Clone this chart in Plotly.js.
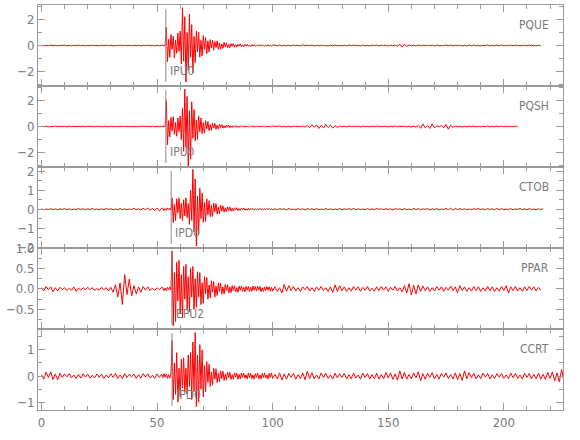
<!DOCTYPE html>
<html>
<head>
<meta charset="utf-8">
<script src="https://cdn.plot.ly/plotly-3.0.1.min.js"></script>
<style>html,body{margin:0;padding:0;background:#fff}#chart{width:580px;height:440px}</style>
</head>
<body>
<div id="chart"></div>
<script>
// Stations, picks
const stations = ['PQUE','PQSH','CTOB','PPAR','CCRT'];
const pickTimes = [53.8, 53.8, 56.1, 56.4, 56.5];
const pickLabels = ['IPU0','IPU0','IPD0','EPU2','IPD0'];

// Sampling segments: [start, step]  (A: 0-52 s, B: 52.5-100 s, C: 101 s-)
const segA = [0, 1], segB = [52.5, 0.5], segC = [101, 1];

// ---- PQUE ----
const pqueA = [.02,-.03,.01,-.02,.03,-.01,.02,-.03,.02,-.01,
.03,-.02,.01,-.03,.02,-.02,.03,-.01,.02,-.03,
.01,-.02,.03,-.02,.01,-.03,.02,-.01,.03,-.02,
.02,-.03,.01,-.02,.03,-.02,.02,-.01,.03,-.03,
.01,-.02,.02,-.03,.02,-.01,.03,-.02,.01,-.03,
.02,-.02,.03];
const pqueB = [.02,-.03,.02,1.4,-1.25,.5,-.9,.85,-.3,.7,
-.95,.4,-.6,.95,-.45,1.1,-1.4,2.9,-1.2,2.2,
-2.8,1.0,-1.9,2.4,-.9,1.6,-2.1,.7,-1.3,1.1,
-.5,1.0,-.9,.4,-.8,.75,-.3,.6,-.65,.35,
-.5,.45,-.2,.4,-.35,.3,-.15,.35,-.3,.2,
-.28,.12,-.22,.25,-.1,.2,-.18,.08,-.17,.15,
-.06,.15,-.13,.07,-.12,.1,-.05,.12,-.1,.05,
-.09,.08,-.04,.09,-.07,.03,-.08,.06,-.04,.07,
-.05,.03,-.06,.05,-.02,.05,-.04,.03,-.05,.04,
-.03,.04,-.04,.02,-.04,.03];
const pqueC = [.03,-.02,.04,-.03,.01,-.03,.02,-.04,.03,-.01,
.02,-.03,.04,-.02,.03,-.01,.03,-.04,.02,-.02,
.03,-.03,.01,-.04,.03,-.02,.04,-.02,.01,-.03,
.02,-.03,.04,-.01,.03,-.02,.02,-.04,.03,-.02,
.01,-.03,.03,-.02,.04,-.03,.02,-.01,.03,-.04,
.02,-.03,.04,-.05,.09,-.12,.1,-.06,.04,-.03,
.02,-.03,.04,-.02,.03,-.01,.03,-.03,.02,-.04,
.03,-.02,.01,-.03,.04,-.02,.03,-.03,.02,-.01,
.03,-.04,.02,-.03,.03,-.02,.04,-.03,.01,-.03,
.02,-.02,.04,-.03,.02,-.03,.03,-.01,.04,-.03,
.02,-.03,.03,-.02,.04,-.02,.01,-.03,.03,-.02,
.04,-.03,.02,-.03,.03,-.02];

// ---- PQSH ----
const pqshA = [.03,-.02,.02,-.03,.01,-.02,.03,-.03,.02,-.01,
.02,-.03,.03,-.01,.02,-.03,.01,-.02,.03,-.02,
.02,-.01,.03,-.03,.02,-.02,.01,-.03,.02,-.03,
.03,-.02,.01,-.03,.02,-.01,.03,-.02,.02,-.03,
.01,-.03,.02,-.02,.03,-.01,.02,-.03,.03,-.02,
.01,-.02,.03];
const pqshB = [.02,-.03,.03,2.0,-1.4,.45,-.8,.7,-.35,.75,
-.6,.3,-.75,.65,-.4,.8,-1.0,1.4,-1.9,2.85,
-1.6,2.3,-3.1,1.2,-2.5,1.9,-.9,1.3,-1.1,.5,
-1.0,.8,-.4,.65,-.55,.3,-.5,.45,-.2,.38,
-.32,.15,-.3,.26,-.12,.24,-.22,.1,-.19,.17,
-.08,.15,-.13,.06,-.12,.11,-.05,.1,-.09,.04,
-.08,.07,-.03,.07,-.06,.03,-.07,.05,-.03,.06,
-.05,.02,-.05,.04,-.03,.05,-.02,.04,-.04,.02,
-.04,.03,-.02,.04,-.03,.02,-.04,.03,-.02,.03,
-.03,.02,-.04,.03,-.02,.03];
const pqshC = [.03,-.02,.04,-.03,.01,-.03,.02,-.04,.03,-.01,
.02,-.03,.04,-.05,.08,-.1,.14,-.06,.12,-.15,
.09,-.11,.14,-.07,.1,-.13,.06,-.08,.04,-.03,
.02,-.03,.04,-.01,.03,-.02,.02,-.04,.03,-.02,
.01,-.03,.03,-.02,.04,-.03,.02,-.01,.03,-.04,
.02,-.03,.04,-.02,.03,-.01,.03,-.03,.02,-.04,
.03,-.05,.08,-.14,.2,-.1,.07,-.15,.2,-.12,
.06,-.04,.08,-.1,.16,-.2,.1,-.07,.04,-.03,
.03,-.04,.02,-.03,.03,-.02,.04,-.03,.01,-.03,
.02,-.02,.04,-.03,.02,-.03,.03,-.01,.04,-.03,
.02,-.03,.03,-.02,.04,-.02];

// ---- CTOB ----
const ctobA = [.02,-.03,.01,-.02,.03,-.02,.01,-.03,.02,-.01,
.03,-.02,.02,-.03,.01,-.02,.03,-.01,.02,-.03,
.02,-.01,.03,-.02,.01,-.03,.02,-.02,.03,-.01,
.02,-.03,.01,-.02,.03,-.02,.02,-.03,.01,-.02,
.04,-.03,.02,-.04,.05,-.03,.06,-.05,.04,-.07,
.06,-.1,.05];
const ctobB = [.05,-.07,.03,-.06,.07,-.04,.06,-.05,.6,-.7,
.25,-.6,.55,-.2,.6,-.5,.3,-.6,.5,-.35,
.6,-.45,.3,-.8,1.0,-.6,2.1,-1.2,1.6,-1.95,
.7,-1.3,1.1,-.5,.85,-.7,.35,-.65,.55,-.3,
.45,-.4,.2,-.38,.32,-.15,.3,-.26,.12,-.24,
.2,-.1,.18,-.16,.08,-.14,.13,-.06,.12,-.1,
.05,-.1,.08,-.04,.08,-.07,.03,-.07,.06,-.03,
.06,-.05,.02,-.06,.04,-.03,.05,-.02,.04,-.04,
.02,-.04,.03,-.02,.04,-.03,.02,-.03,.03,-.02,
.03,-.02,.04,-.03,.02,-.03];
const ctobC = [.02,-.03,.03,-.01,.02,-.03,.04,-.02,.01,-.03,
.03,-.02,.02,-.04,.03,-.01,.02,-.03,.03,-.02,
.01,-.03,.04,-.02,.02,-.03,.01,-.02,.03,-.03,
.02,-.01,.03,-.02,.04,-.03,.02,-.02,.01,-.03,
.03,-.02,.02,-.03,.04,-.01,.02,-.03,.03,-.02,
.02,-.04,.03,-.01,.02,-.03,.03,-.02,.01,-.03,
.04,-.02,.03,-.03,.02,-.01,.03,-.04,.02,-.02,
.03,-.03,.01,-.02,.04,-.03,.05,-.06,.04,-.02,
.03,-.02,.02,-.03,.01,-.03,.03,-.02,.04,-.02,
.02,-.03,.03,-.01,.02,-.03,.04,-.02,.03,-.03,
.01,-.02,.03,-.03,.02,-.01,.03,-.02,.02,-.03,
.03,-.02,.01,-.03,.02,-.02,.03];

// ---- PPAR ----
const pparA = [.03,-.05,.06,-.02,.05,-.07,.03,-.05,.04,-.02,
.03,-.04,.02,-.03,.05,-.06,.02,-.03,.03,-.02,
.04,-.02,.03,-.04,.01,-.03,.04,-.02,.03,-.05,
.04,-.08,.1,-.2,.15,-.38,.35,-.14,.24,-.17,
.08,-.12,.05,-.08,.06,-.03,.05,-.04,.02,-.04,
.03,-.02,.04];
const pparB = [.03,-.04,.02,-.05,.04,-.02,.05,-.03,.93,-.9,
.4,-.8,.65,-.3,.7,-.6,.35,-.7,.55,-.25,
.6,-.5,.3,-.55,.5,-.2,.55,-.5,.25,-.45,
.42,-.2,.4,-.38,.15,-.35,.3,-.12,.28,-.25,
.1,-.22,.2,-.08,.18,-.2,.07,-.16,.15,-.06,
.14,-.13,.05,-.12,.11,-.04,.1,-.1,.05,-.09,
.08,-.04,.08,-.07,.03,-.08,.07,-.03,.07,-.06,
.04,-.07,.06,-.03,.06,-.07,.04,-.06,.07,-.03,
.06,-.05,.07,-.03,.06,-.07,.03,-.06,.05,-.04,
.06,-.03,.05,-.06,.04,-.05];
const pparC = [.05,-.06,.03,-.1,.11,-.06,.08,-.04,.06,-.05,
.03,-.06,.05,-.02,.06,-.05,.03,-.06,.05,-.03,
.06,-.04,.03,-.06,.05,-.09,.1,-.06,.08,-.04,
.05,-.06,.03,-.05,.06,-.03,.05,-.06,.04,-.03,
.06,-.05,.02,-.06,.05,-.04,.06,-.03,.05,-.06,
.04,-.03,.06,-.05,.03,-.07,.08,-.1,.13,-.15,
.09,-.12,.1,-.06,.07,-.04,.05,-.06,.03,-.05,
.06,-.03,.05,-.06,.04,-.03,.07,-.04,.05,-.09,
.08,-.04,.05,-.06,.03,-.05,.06,-.04,.05,-.06,
.03,-.05,.06,-.04,.05,-.06,.03,-.05,.06,-.04,
.08,-.1,.05,-.04,.06,-.05,.03,-.06,.05,-.04,
.06,-.03,.05,-.05,.04,-.03];

// ---- CCRT ----
const ccrtA = [.05,-.12,.15,-.06,.16,-.13,.08,-.14,.1,-.05,
.08,-.03,.09,-.07,.04,-.09,.06,-.08,.09,-.04,
.07,-.08,.03,-.07,.08,-.05,.07,-.09,.04,-.07,
.09,-.05,.1,-.09,.04,-.1,.09,-.06,.07,-.03,
.08,-.09,.05,-.08,.09,-.04,.08,-.07,.03,-.09,
.08,-.05,.07];
const ccrtB = [-.06,.09,-.04,.08,-.09,.05,-.08,.07,1.35,-.9,
.5,-.7,.9,-1.0,.3,-.8,.65,-.45,.7,-.6,
.3,-.7,.8,-.4,.9,-.9,1.3,-.6,1.66,-1.17,
.8,-1.0,1.2,-.5,1.0,-.8,.4,-.6,.55,-.25,
.45,-.4,.15,-.35,.3,-.12,.28,-.25,.1,-.22,
.2,-.1,.18,-.17,.07,-.15,.15,-.06,.14,-.13,
.05,-.12,.12,-.04,.11,-.12,.06,-.11,.12,-.05,
.11,-.08,.04,-.11,.12,-.06,.11,-.1,.04,-.12,
.09,-.05,.12,-.11,.04,-.11,.1,-.06,.12,-.08,
.04,-.11,.1,-.05,.12,-.09];
const ccrtC = [.06,-.11,.12,-.15,.08,-.12,.1,-.05,.1,-.12,
.05,-.1,.12,-.14,.18,-.09,.13,-.11,.04,-.11,
.12,-.06,.11,-.09,.04,-.12,.11,-.07,.09,-.05,
.1,-.11,.05,-.1,.11,-.08,.04,-.12,.11,-.06,
.09,-.11,.05,-.1,.11,-.12,.06,-.11,.13,-.07,
.12,-.13,.08,-.16,.2,-.11,.14,-.12,.06,-.11,
.12,-.07,.16,-.18,.09,-.12,.11,-.05,.13,-.11,
.06,-.12,.1,-.04,.12,-.1,.06,-.11,.12,-.13,
.09,-.17,.2,-.1,.13,-.06,.1,-.11,.05,-.1,
.11,-.04,.1,-.11,.05,-.1,.09,-.04,.1,-.08,
.04,-.1,.11,-.06,.1,-.09,.04,-.11,.1,-.05,
.1,-.11,.06,-.1,.11,-.12,.07,-.13,.14,-.09,
.16,-.18,.12,-.22,.25,-.2];

const series = [
  [pqueA, pqueB, pqueC],
  [pqshA, pqshB, pqshC],
  [ctobA, ctobB, ctobC],
  [pparA, pparB, pparC],
  [ccrtA, ccrtB, ccrtC]
];

function times(seg, n) { const t = []; for (let k = 0; k < n; k++) t.push(seg[0] + k * seg[1]); return t; }

const FONT = '"Liberation Sans Narrow", "DejaVu Sans Condensed", "Arial Narrow", sans-serif';
const GRAY = '#7a7a7a';
const LINE = '#9a9a9a';

const yRanges = [[-3.1, 3.1], [-3.1, 3.1], [-2.05, 2.23], [-0.98, 1.001], [-1.3, 1.8]];
const yDticks = [2, 2, 1, 0.5, 1];
const yMinor = [1, 1, 0.5, 0.25, 0.5];
const yFormats = ['', '', '', '.1f', ''];

const data = [];
const layout = {
  width: 580, height: 440,
  margin: {l: 38, r: 17, t: 5, b: 30},
  paper_bgcolor: '#fff', plot_bgcolor: '#fff',
  showlegend: false,
  font: {family: FONT, color: GRAY, size: 12},
  shapes: [], annotations: []
};

for (let i = 0; i < 5; i++) {
  const [A, B, C] = series[i];
  const x = [...times(segA, A.length), ...times(segB, B.length), ...times(segC, C.length)];
  const y = [...A, ...B, ...C];
  const sfx = i === 0 ? '' : String(i + 1);
  data.push({
    type: 'scatter', mode: 'lines', x: x, y: y,
    xaxis: 'x' + sfx, yaxis: 'y' + sfx,
    line: {color: 'rgb(255,0,0)', width: 1},
    hoverinfo: 'skip'
  });
  const top = 1 - i * 0.2, bot = 1 - (i + 1) * 0.2;
  layout['xaxis' + sfx] = {
    domain: [0, 1], anchor: 'y' + sfx, range: [-1.5, 225.6],
    showline: true, mirror: 'ticks', linecolor: LINE, linewidth: 1,
    ticks: 'inside', ticklen: 7, tickcolor: LINE, dtick: 50, tick0: 0,
    minor: {ticks: 'inside', ticklen: 4, dtick: 10, tickcolor: LINE},
    showgrid: false, zeroline: false,
    showticklabels: i === 4,
    tickfont: {family: FONT, size: 13, color: GRAY}
  };
  if (i > 0) layout['xaxis' + sfx].matches = 'x';
  layout['yaxis' + sfx] = {
    domain: [bot, top], anchor: 'x' + sfx, range: yRanges[i],
    showline: true, mirror: 'ticks', linecolor: LINE, linewidth: 1,
    ticks: 'inside', ticklen: 7, tickcolor: LINE, dtick: yDticks[i], tick0: 0,
    minor: {ticks: 'inside', ticklen: 4, dtick: yMinor[i], tickcolor: LINE},
    tickformat: yFormats[i],
    showgrid: false, zeroline: false,
    tickfont: {family: FONT, size: 13, color: GRAY}
  };
  layout.shapes.push({
    type: 'line', xref: 'x' + sfx, yref: 'y' + sfx + ' domain',
    x0: pickTimes[i], x1: pickTimes[i], y0: 0.05, y1: 0.95,
    line: {color: '#8c8c8c', width: 1}
  });
  layout.annotations.push({
    xref: 'x' + sfx, yref: 'y' + sfx + ' domain',
    x: pickTimes[i], y: 0.18, xanchor: 'left', yanchor: 'middle', xshift: 2,
    text: pickLabels[i], showarrow: false,
    font: {family: FONT, size: 12, color: GRAY}
  });
  layout.annotations.push({
    xref: 'x' + sfx + ' domain', yref: 'y' + sfx + ' domain',
    x: 0.977, y: 0.75, xanchor: 'right', yanchor: 'middle',
    text: stations[i], showarrow: false,
    font: {family: FONT, size: 12, color: GRAY}
  });
}

Plotly.newPlot('chart', data, layout, {displayModeBar: false, staticPlot: true});
</script>
</body>
</html>
